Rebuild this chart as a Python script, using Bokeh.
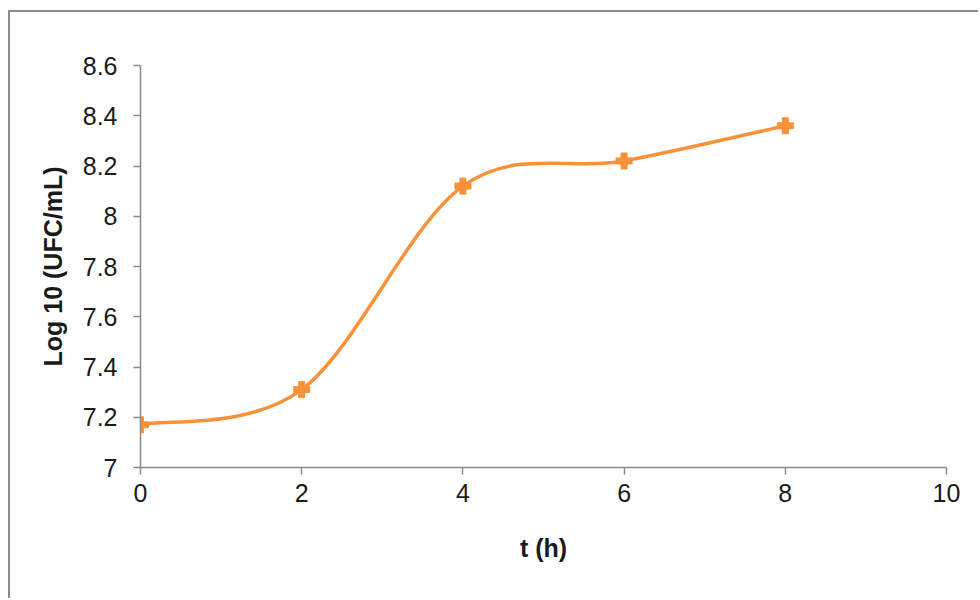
import numpy as np
from bokeh.plotting import figure
from bokeh.models import FixedTicker
from bokeh.embed import file_html
from bokeh.resources import INLINE

# data
t_hours = [0, 2, 4, 6, 8]
log_ufc = [7.17, 7.31, 8.12, 8.22, 8.36]
x_ticks = [0, 2, 4, 6, 8, 10]
y_ticks = [7.0, 7.2, 7.4, 7.6, 7.8, 8.0, 8.2, 8.4, 8.6]
y_tick_labels = ["7", "7.2", "7.4", "7.6", "7.8", "8", "8.2", "8.4", "8.6"]

ORANGE = "#F7923A"
AXIS = "#8a8a8a"
FONT = "Liberation Sans"

p = figure(width=970, height=588, x_range=(0, 10), y_range=(7, 8.6),
           output_backend="svg", toolbar_location=None,
           min_border_left=130, min_border_right=34,
           min_border_top=53, min_border_bottom=133)
p.margin = (10, 0, 0, 8)
p.styles = {"border-top": "2px solid #8c8c8c", "border-left": "2px solid #8c8c8c"}
p.outline_line_color = None
p.xgrid.visible = False
p.ygrid.visible = False
p.background_fill_color = "white"
p.border_fill_color = "white"

# smoothed line (Catmull-Rom style Bezier segments, like Excel smoothing)
xs = np.array(t_hours, dtype=float)
ys = np.array(log_ufc, dtype=float)
n = len(xs)
px = np.concatenate([[xs[0]], xs, [xs[-1]]])
py = np.concatenate([[ys[0]], ys, [ys[-1]]])
k = 1.0 / 6.0
x0 = xs[:-1]; y0 = ys[:-1]; x1 = xs[1:]; y1 = ys[1:]
cx0 = xs[:-1] + (px[2:n + 1] - px[0:n - 1]) * k
cy0 = ys[:-1] + (py[2:n + 1] - py[0:n - 1]) * k
cx1 = xs[1:] - (px[3:n + 2] - px[1:n]) * k
cy1 = ys[1:] - (py[3:n + 2] - py[1:n]) * k
p.bezier(x0=x0, y0=y0, x1=x1, y1=y1, cx0=cx0, cy0=cy0, cx1=cx1, cy1=cy1,
         line_color=ORANGE, line_width=3.5)

p.scatter(t_hours, log_ufc, marker="diamond", size=16, fill_color=ORANGE, line_color=ORANGE)
p.scatter(t_hours, log_ufc, marker="plus", size=16, fill_color=ORANGE, line_color=ORANGE)

for ax in (p.xaxis[0], p.yaxis[0]):
    ax.axis_line_color = AXIS
    ax.axis_line_width = 1.5
    ax.major_tick_line_color = AXIS
    ax.major_tick_line_width = 1.5
    ax.major_tick_in = 0
    ax.major_tick_out = 7
    ax.minor_tick_line_color = None
    ax.major_label_text_font = FONT
    ax.major_label_text_font_size = "25px"
    ax.major_label_text_color = "#1a1a1a"
    ax.axis_label_text_font = FONT
    ax.axis_label_text_font_size = "25px"
    ax.axis_label_text_font_style = "bold"
    ax.axis_label_text_color = "#1a1a1a"

p.xaxis.ticker = FixedTicker(ticks=x_ticks)
p.yaxis.ticker = FixedTicker(ticks=y_ticks)
p.yaxis.major_label_overrides = {v: s for v, s in zip(y_ticks, y_tick_labels)}
p.xaxis.axis_label = "t (h)"
p.yaxis.axis_label = "Log 10 (UFC/mL)"
p.xaxis.major_label_standoff = 9
p.yaxis.major_label_standoff = 16
p.xaxis.axis_label_standoff = 29
p.yaxis.axis_label_standoff = 13

open("out.html", "w").write(file_html(p, INLINE))
